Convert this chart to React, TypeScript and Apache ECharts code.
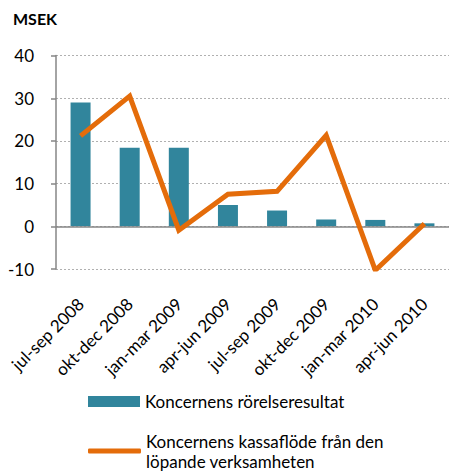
import React, { useEffect, useRef } from "react";
import * as echarts from "echarts";

const categories = [
  "jul-sep 2008",
  "okt-dec 2008",
  "jan-mar 2009",
  "apr-jun 2009",
  "jul-sep 2009",
  "okt-dec 2009",
  "jan-mar 2010",
  "apr-jun 2010",
];
const rorelseresultat = [29.0, 18.4, 18.4, 5.0, 3.7, 1.6, 1.5, 0.7];
const kassaflode = [21.2, 30.5, -0.9, 7.5, 8.2, 21.3, -10.3, 0.6];
const seriesNames = [
  "Koncernens rörelseresultat",
  "Koncernens kassaflöde från den löpande verksamheten",
];
const yMin = -10;
const yMax = 40;
const yStep = 10;
const unitLabel = "MSEK";

const FONT = "Lato, 'Open Sans', sans-serif";

export default function App() {
  const ref = useRef<HTMLDivElement>(null);
  useEffect(() => {
    if (!ref.current) return;
    const chart = echarts.init(ref.current, undefined, { renderer: "svg" });
    chart.setOption({
      animation: false,
      backgroundColor: "#ffffff",
      textStyle: { fontFamily: FONT },
      graphic: [
        {
          type: "text",
          left: 13,
          top: 10,
          style: {
            text: unitLabel,
            font: `bold 16px ${FONT}`,
            fill: "#000",
          },
        },
      ],
      grid: { left: 56, top: 55.6, width: 406, height: 213.4, containLabel: false },
      legend: [
        {
          data: [{ name: seriesNames[0], icon: "rect" }],
          left: 88,
          top: 393,
          padding: 0,
          itemWidth: 52,
          itemHeight: 11,
          itemGap: 0,
          textStyle: { fontFamily: FONT, fontSize: 17, color: "#000", padding: [0, 0, 0, 0] },
        },
        {
          data: [{ name: seriesNames[1], icon: "roundRect" }],
          left: 88,
          top: 421,
          padding: 0,
          itemWidth: 53,
          itemHeight: 5,
          formatter: () => "Koncernens kassaflöde från den\nlöpande verksamheten",
          textStyle: {
            fontFamily: FONT,
            fontSize: 17,
            color: "#000",
            lineHeight: 20,
            padding: [20, 0, 0, 0],
          },
        },
      ],
      xAxis: {
        type: "category",
        data: categories,
        axisLine: { show: false, onZero: false },
        axisTick: { show: false },
        axisLabel: {
          rotate: 45,
          margin: 32,
          fontSize: 17,
          fontFamily: FONT,
          color: "#000",
          interval: 0,
        },
      },
      yAxis: {
        type: "value",
        min: yMin,
        max: yMax,
        interval: yStep,
        axisLine: { show: true, lineStyle: { color: "#868686", width: 1.5 } },
        axisTick: { show: true, length: 5, lineStyle: { color: "#868686", width: 1.5 } },
        axisLabel: { margin: 22, fontSize: 17, fontFamily: FONT, color: "#000" },
        splitLine: { show: true, lineStyle: { color: "#b0b0b0", type: [2, 2], width: 1 } },
      },
      series: [
        {
          name: seriesNames[0],
          type: "bar",
          data: rorelseresultat,
          barWidth: 20,
          itemStyle: { color: "#31859C" },
          markLine: {
            silent: true,
            symbol: "none",
            label: { show: false },
            lineStyle: { color: "#868686", type: "solid", width: 1.5 },
            data: [{ yAxis: 0 }],
          },
        },
        {
          name: seriesNames[1],
          type: "line",
          data: kassaflode,
          symbol: "none",
          itemStyle: { color: "#E46C0A" },
          lineStyle: { color: "#E46C0A", width: 5, join: "miter" },
          z: 5,
        },
      ],
    });
    return () => chart.dispose();
  }, []);
  return (
    <div
      ref={ref}
      style={{ position: "absolute", left: 0, top: 0, width: 449, height: 473 }}
    />
  );
}
